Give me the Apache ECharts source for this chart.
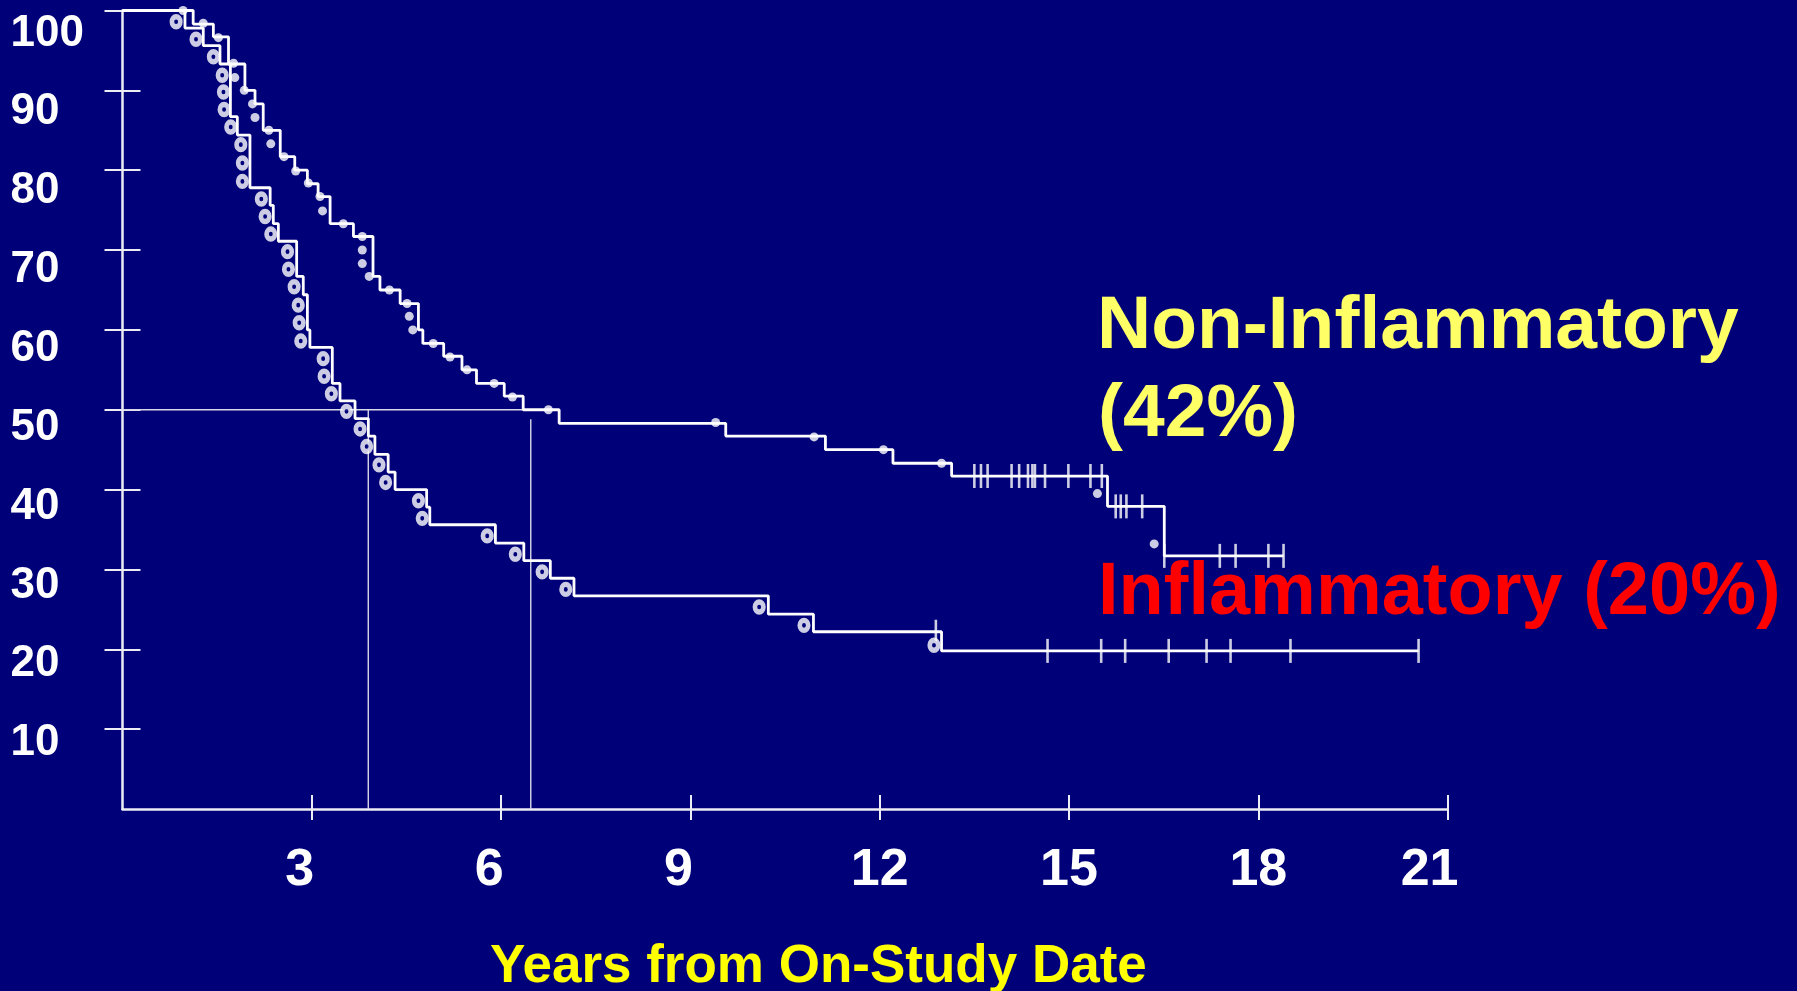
<!DOCTYPE html>
<html>
<head>
<meta charset="utf-8">
<script src="https://cdn.jsdelivr.net/npm/echarts@6/dist/echarts.min.js"></script>
<style>
  html, body { margin: 0; padding: 0; background: #000078; }
  #chart { width: 1797px; height: 991px; }
</style>
</head>
<body>
<div id="chart"></div>
<script>
// Kaplan–Meier survival (%) by years from on-study date, two groups.
const xTicks = [3, 6, 9, 12, 15, 18, 21];
const yTicks = [10, 20, 30, 40, 50, 60, 70, 80, 90, 100];

// Step curves: [years, survival % after the step]
const nonInflamSteps = [
  [0, 100], [1.12, 98.3], [1.44, 96.7], [1.68, 93.3], [1.94, 90.0], [2.10, 88.3],
  [2.23, 85.0], [2.50, 81.7], [2.73, 80.0], [2.93, 78.3], [3.10, 76.7], [3.29, 73.3],
  [3.66, 71.7], [3.97, 66.7], [4.08, 65.0], [4.40, 63.3], [4.69, 60.0], [4.76, 58.3],
  [5.09, 56.7], [5.38, 55.0], [5.61, 53.3], [6.05, 51.7], [6.35, 50.0], [6.92, 48.3],
  [9.56, 46.7], [11.14, 45.0], [12.21, 43.3], [13.14, 41.7], [15.61, 37.9],
  [16.51, 31.7], [18.40, 31.7]
];
const inflamSteps = [
  [0, 100], [0.99, 97.8], [1.28, 95.6], [1.545, 93.3], [1.71, 86.7], [1.82, 84.4],
  [2.02, 77.8], [2.34, 75.6], [2.39, 73.3], [2.47, 71.1], [2.76, 66.7], [2.865, 64.4],
  [2.93, 60.0], [2.97, 57.8], [3.325, 53.3], [3.447, 51.1], [3.685, 48.9], [3.896, 46.7],
  [4.00, 44.4], [4.21, 42.2], [4.32, 40.0], [4.82, 37.8], [4.87, 35.6], [5.91, 33.3],
  [6.36, 31.1], [6.78, 28.9], [7.155, 26.7], [10.235, 24.4], [10.95, 22.2],
  [12.98, 19.8], [20.54, 19.8]
];

// Event markers
const nonInflamDots = [
  [0.96, 100], [1.28, 98.4], [1.52, 96.6], [1.76, 93.4], [1.78, 91.6], [1.93, 90.0],
  [2.06, 88.3], [2.10, 86.6], [2.32, 85.0], [2.35, 83.3], [2.56, 81.7], [2.745, 79.9],
  [2.945, 78.4], [3.13, 76.7], [3.17, 74.9], [3.50, 73.3], [3.80, 71.7], [3.80, 70.0],
  [3.80, 68.3], [3.91, 66.7], [4.23, 65.0], [4.51, 63.3], [4.545, 61.7], [4.60, 60.0],
  [4.925, 58.3], [5.19, 56.6], [5.46, 55.0], [5.89, 53.3], [6.18, 51.6], [6.75, 50.0],
  [9.40, 48.4], [10.96, 46.6], [12.06, 45.0], [12.98, 43.3], [15.45, 39.5], [16.35, 33.2]
];
const inflamCircles = [
  [0.85, 98.6], [1.165, 96.4], [1.44, 94.2], [1.58, 91.9], [1.60, 89.8], [1.61, 87.6],
  [1.715, 85.4], [1.875, 83.2], [1.90, 80.9], [1.90, 78.6], [2.20, 76.4], [2.26, 74.2],
  [2.35, 72.0], [2.615, 69.8], [2.63, 67.6], [2.72, 65.4], [2.785, 63.1], [2.80, 60.9],
  [2.825, 58.6], [3.18, 56.4], [3.195, 54.2], [3.31, 52.0], [3.55, 49.8], [3.765, 47.6],
  [3.87, 45.4], [4.065, 43.1], [4.17, 40.9], [4.69, 38.6], [4.75, 36.4], [5.78, 34.2],
  [6.225, 31.9], [6.65, 29.7], [7.025, 27.5], [10.09, 25.3], [10.80, 23.0], [12.86, 20.5]
];

// Censored observations
const nonInflamCensored = [
  [13.50, 41.7], [13.605, 41.7], [13.71, 41.7], [14.09, 41.7], [14.21, 41.7], [14.35, 41.7],
  [14.42, 41.7], [14.46, 41.7], [14.62, 41.7], [14.99, 41.7], [15.34, 41.7], [15.52, 41.7],
  [15.74, 37.9], [15.82, 37.9], [15.91, 37.9], [16.16, 37.9],
  [16.51, 31.7], [17.39, 31.7], [17.64, 31.7], [18.16, 31.7], [18.40, 31.7]
];
const inflamCensored = [
  [12.89, 22.2], [14.66, 19.8], [15.51, 19.8], [15.89, 19.8], [16.58, 19.8],
  [17.18, 19.8], [17.56, 19.8], [18.51, 19.8], [20.54, 19.8]
];

// Median guide lines
const medianLevel = [[0, 50], [6.35, 50]];
const inflamMedianDrop = [[3.895, 50], [3.895, 0]];
const nonInflamMedianDrop = [[6.47, 48.8], [6.47, 0]];

const BG = '#000078';
const FONT = "'Liberation Sans', Arial, sans-serif";
const AXIS_COLOR = '#ececf4';

const chart = echarts.init(document.getElementById('chart'), null, { renderer: 'canvas' });

const xBase = {
  type: 'value', min: 0, max: 21, interval: 3, position: 'bottom',
  splitLine: { show: false }
};
const yBase = {
  type: 'value', min: 0, max: 100, interval: 10, position: 'left',
  splitLine: { show: false }
};

// x labels: the single-digit ones and "21" sit a little left of their ticks
function shiftedLabel(v) {
  const key = (v === 3 || v === 6 || v === 9) ? 'a' : (v === 21 ? 'b' : 'c');
  return '{' + key + '|' + v + '}';
}
const xLabelText = { fontFamily: FONT, fontWeight: 'bold', fontSize: 52, color: '#ffffff' };

// y labels hang below their ticks, a bit more towards the top of the scale
const yLabelText = { fontFamily: FONT, fontWeight: 'bold', fontSize: 44, color: '#ffffff' };
const yLabelRich = {};
yTicks.forEach(function (v) {
  yLabelRich['y' + v] = Object.assign({ lineHeight: 28 + 0.2 * (v - 10) }, yLabelText);
});

const lineSeries = (data, width, color, z) => ({
  type: 'line', data, step: false, symbol: 'none', silent: true, z,
  lineStyle: { color, width }
});

chart.setOption({
  backgroundColor: BG,
  animation: false,
  grid: {
    left: 122.5, right: 349.4, top: 10.5, bottom: 182,
    containLabel: false, outerBoundsMode: 'none'
  },
  xAxis: [
    Object.assign({}, xBase, {
      axisLine: { show: true, lineStyle: { color: AXIS_COLOR, width: 2.5 } },
      axisTick: { show: true, inside: false, length: 11, customValues: xTicks,
                  lineStyle: { color: AXIS_COLOR, width: 2 } },
      axisLabel: {
        show: true, customValues: xTicks, margin: 36, formatter: shiftedLabel,
        rich: {
          a: Object.assign({ padding: [0, 24, 0, 0] }, xLabelText),
          b: Object.assign({ padding: [0, 36, 0, 0] }, xLabelText),
          c: Object.assign({}, xLabelText)
        }
      }
    }),
    Object.assign({}, xBase, {
      axisLine: { show: false },
      axisTick: { show: true, inside: true, length: 14, customValues: xTicks,
                  lineStyle: { color: AXIS_COLOR, width: 2 } },
      axisLabel: { show: false }
    })
  ],
  yAxis: [
    Object.assign({}, yBase, {
      axisLine: { show: true, lineStyle: { color: AXIS_COLOR, width: 2.5 } },
      axisTick: { show: true, inside: false, length: 18, customValues: yTicks,
                  lineStyle: { color: AXIS_COLOR, width: 2 } },
      axisLabel: Object.assign({
        show: true, customValues: yTicks, margin: 112, align: 'left',
        verticalAlign: 'top',
        formatter: function (v) { return '{y' + v + '|' + v + '}'; },
        rich: yLabelRich
      }, yLabelText)
    }),
    Object.assign({}, yBase, {
      axisLine: { show: false },
      axisTick: { show: true, inside: true, length: 18, customValues: yTicks,
                  lineStyle: { color: AXIS_COLOR, width: 2 } },
      axisLabel: { show: false }
    })
  ],
  series: [
    lineSeries(medianLevel, 1.4, '#d8d8e8', 2),
    lineSeries(inflamMedianDrop, 1.4, '#d8d8e8', 2),
    lineSeries(nonInflamMedianDrop, 1.4, '#d8d8e8', 2),
    Object.assign(lineSeries(nonInflamSteps, 2.8, '#ffffff', 3), { step: 'end' }),
    Object.assign(lineSeries(inflamSteps, 2.8, '#ffffff', 3), { step: 'end' }),
    {
      type: 'scatter', data: nonInflamCensored, symbol: 'rect', symbolSize: [2.6, 24],
      itemStyle: { color: '#ffffff' }, silent: true, z: 4
    },
    {
      type: 'scatter', data: inflamCensored, symbol: 'rect', symbolSize: [2.6, 24],
      itemStyle: { color: '#ffffff' }, silent: true, z: 4
    },
    {
      type: 'scatter', data: nonInflamDots, symbol: 'circle', symbolSize: 9,
      itemStyle: { color: '#ffffff' }, silent: true, z: 5
    },
    {
      type: 'scatter', data: inflamCircles, symbol: 'circle', symbolSize: [8.5, 10],
      itemStyle: { color: BG, borderColor: '#ffffff', borderWidth: 5 }, silent: true, z: 5
    }
  ],
  graphic: [
    {
      type: 'text', left: 1097, top: 290, silent: true,
      style: { text: 'Non-Inflammatory', font: 'bold 75px ' + FONT, fill: '#ffff66' }
    },
    {
      type: 'text', left: 1098, top: 378, silent: true,
      style: { text: '(42%)', font: 'bold 75px ' + FONT, fill: '#ffff66' }
    },
    {
      type: 'text', left: 1098, top: 557, silent: true,
      style: { text: 'Inflammatory (20%)', font: 'bold 74px ' + FONT, fill: '#ff0000' }
    },
    {
      type: 'text', left: 490, top: 941, silent: true,
      style: { text: 'Years from On-Study Date', font: 'bold 53px ' + FONT, fill: '#ffff00' }
    }
  ]
});
</script>
</body>
</html>
